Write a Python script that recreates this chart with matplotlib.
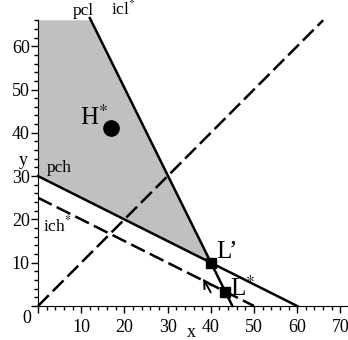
import matplotlib.pyplot as plt
import numpy as np

plt.rcParams["font.family"] = ["Liberation Serif", "DejaVu Serif"]
plt.rcParams["mathtext.fontset"] = "stix"
plt.rcParams["lines.scale_dashes"] = False

# lines, as [x0, y0, x1, y1]
pch = [0, 30, 60, 0]
ich = [0, 25, 50, 0]
pcl = [12, 66.5, 45, 0]
diag = [0, 0, 66, 66]

# shaded feasible region
region_x = [0, 12, 40, 0]
region_y = [66, 66, 10, 30]

h_star = (16.8, 41.2)
l_prime = (40, 10)
l_star = (43.3, 3.3)
arrow_tail = (40.3, 2.6)
arrow_head = (37.9, 6.9)

x_ticks = [10, 20, 30, 40, 50, 60, 70]
y_ticks = [10, 20, 30, 40, 50, 60]

small_labels = [("pcl", 8.0, 67.3), ("icl$^{*}$", 17.0, 67.3),
                ("pch", 2.1, 30.9), ("ich$^{*}$", 1.1, 17.3)]
big_labels = [("H$^{*}$", 9.8, 41.8), ("L\u2019", 41.2, 11.2),
              ("L$^{*}$", 44.5, 2.4)]

fig = plt.figure(figsize=(3.48, 3.40), dpi=100)
ax = fig.add_axes([0, 0, 1, 1])
ax.set_xlim(-8.8, 71.76)
ax.set_ylim(-7.85, 70.67)

for s in ["top", "right"]:
    ax.spines[s].set_visible(False)
ax.spines["left"].set_position(("data", 0))
ax.spines["bottom"].set_position(("data", 0))
ax.spines["left"].set_bounds(0, 66)
ax.spines["bottom"].set_bounds(0, 71.8)
ax.spines["left"].set_zorder(5)
ax.spines["bottom"].set_zorder(5)

ax.set_xticks([0] + x_ticks, [""] + [str(t) for t in x_ticks])
ax.set_yticks([0] + y_ticks, [""] + [str(t) for t in y_ticks])
ax.set_xticks(np.arange(0, 72, 2), minor=True)
ax.set_yticks(np.arange(0, 67, 2), minor=True)
ax.tick_params(which="major", direction="out", length=5, width=1, labelsize=13)
ax.tick_params(which="minor", direction="out", length=3, width=1)
ax.tick_params(axis="x", pad=4)
ax.tick_params(axis="y", pad=1)

ax.fill(region_x, region_y, color="#c0c0c0", lw=0, zorder=1)

ax.plot(diag[::2], diag[1::2], color="black", lw=1.8, dashes=[11, 4], zorder=2)
ax.plot(ich[::2], ich[1::2], color="black", lw=1.8, dashes=[11, 4], zorder=2)
ax.plot(pch[::2], pch[1::2], color="black", lw=1.8, zorder=3)
ax.plot(pcl[::2], pcl[1::2], color="black", lw=1.8, zorder=3)

ax.plot(*h_star, "o", color="black", ms=11, zorder=4)
ax.plot(*l_prime, "s", color="black", ms=7.5, zorder=4)
ax.plot(*l_star, "s", color="black", ms=7.5, zorder=4)

ax.annotate("", xy=arrow_head, xytext=arrow_tail,
            arrowprops=dict(arrowstyle="->", lw=1.4, color="black", mutation_scale=14))

for txt, x, y in small_labels:
    ax.text(x, y, txt, fontsize=12.5, va="baseline")
for txt, x, y in big_labels:
    ax.text(x, y, txt, fontsize=18, va="baseline")

ax.text(-2.6, -2.9, "0", fontsize=13, ha="center", va="center")
ax.text(-3.3, 33.6, "y", fontsize=13, ha="center", va="center")
ax.text(35.5, -6.2, "x", fontsize=13, ha="center", va="center")

fig.savefig("out.png", dpi=100)
